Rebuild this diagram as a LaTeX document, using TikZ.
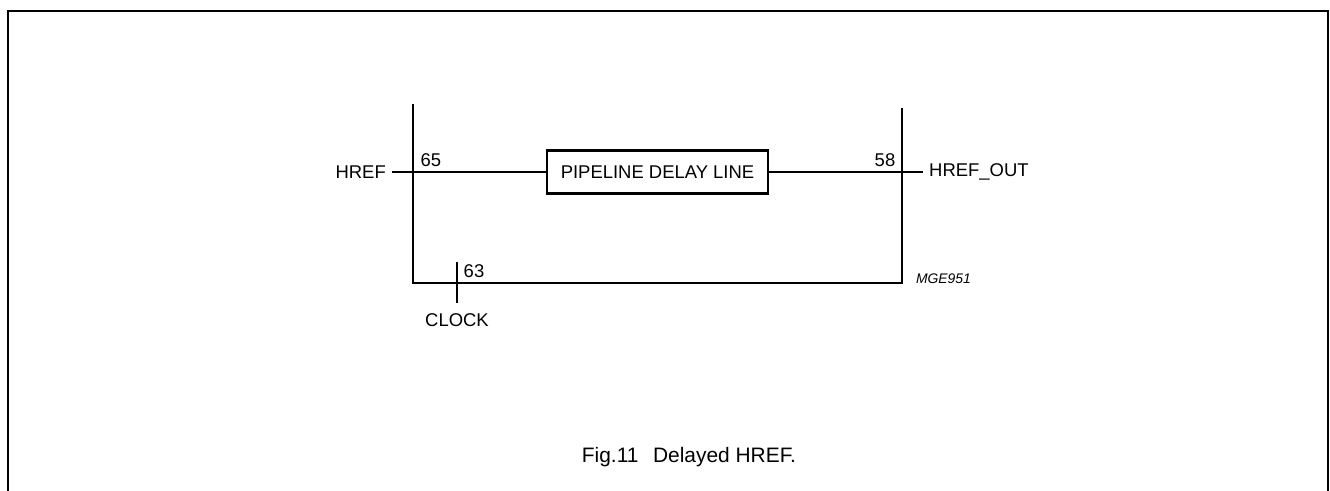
\documentclass[tikz,border=0pt]{standalone}
\usepackage{fontspec}
\setmainfont{Liberation Sans}
\usepackage{tikz}
\usetikzlibrary{positioning}

\begin{document}
\begin{tikzpicture}[every node/.style={font=\fontsize{10.5}{12}\selectfont}, wall/.style={line width=1.6pt}, wire/.style={line width=0.6pt}]
    \useasboundingbox (0,0) rectangle (26.6,-9.82);
    \draw[line width=0.9pt] (0.16,-9.82) |- (26.56,-0.22) -- (26.56,-9.82);

    \coordinate (lt) at (8.26,-2.08);
    \coordinate (lb) at (8.26,-5.66);
    \coordinate (rb) at (18.04,-5.66);
    \coordinate (rt) at (18.04,-2.16);
    \draw[wall] (lt) -- (lb) -- (rb) -- (rt);

    \node[draw, wall, minimum width=4.42cm, minimum height=0.86cm, inner sep=0pt] (pdl) at (13.15,-3.44) {PIPELINE DELAY LINE};
    \node[anchor=east] (href) at (7.84,-3.44) {HREF};
    \node[anchor=west] (hrefout) at (18.46,-3.44) {HREF\_OUT};
    \draw[wire] (href.east) -- (pdl.west);
    \draw[wire] (pdl.east) -- (hrefout.west);
    \node (p65) at (8.62,-3.20) {65};
    \node (p58) at (17.70,-3.20) {58};

    \coordinate (ctop) at (9.14,-5.24);
    \node[inner sep=0.2cm] (clock) at (9.14,-6.40) {CLOCK};
    \draw[wire] (ctop) -- (clock.north);
    \node (p63) at (9.48,-5.42) {63};

    \node[font=\fontsize{7.9}{9}\selectfont\itshape] (mge) at (18.87,-5.58) {MGE951};
    \node[font=\fontsize{11.9}{14}\selectfont] (caption) at (13.78,-9.14) {Fig.11\hspace{0.7em}Delayed HREF.};
\end{tikzpicture}
\end{document}
